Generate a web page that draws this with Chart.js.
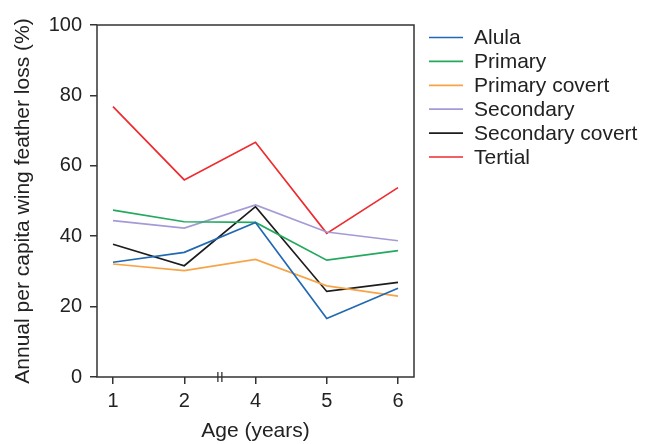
<!DOCTYPE html>
<html>
<head>
<meta charset="utf-8">
<script src="https://cdn.jsdelivr.net/npm/chart.js@4/dist/chart.umd.min.js"></script>
<style>
  html, body { margin: 0; padding: 0; background: #fff; }
  #wrap { width: 654px; height: 444px; }
</style>
</head>
<body>
<div id="wrap"><canvas id="c" width="654" height="444"></canvas></div>
<script>
// ages shown on the x axis (3 is skipped, hence the break mark)
const ageLabels = ["1", "2", "4", "5", "6"];

const alula          = [32.6, 35.4, 43.9, 16.6, 25.2];
const primary        = [47.4, 44.1, 43.9, 33.2, 35.9];
const primaryCovert  = [32.1, 30.2, 33.4, 25.9, 23.0];
const secondary      = [44.4, 42.3, 48.9, 41.2, 38.7];
const secondaryCovert= [37.7, 31.6, 48.4, 24.3, 26.9];
const tertial        = [76.8, 56.0, 66.7, 40.8, 53.8];

const seriesNames  = ["Alula", "Primary", "Primary covert", "Secondary", "Secondary covert", "Tertial"];
const seriesValues = [alula, primary, primaryCovert, secondary, secondaryCovert, tertial];
const seriesColors = ["#2068b2", "#22a95e", "#f7a448", "#a49bd6", "#1c1c1c", "#ee2b2f"];

const FONT = "'Liberation Sans', Arial, sans-serif";
const INK = "#222";
const AXIS = "#333";

const datasets = seriesNames.map((name, i) => ({
  label: name,
  data: seriesValues[i].map((v, k) => ({ x: k, y: v })),
  borderColor: seriesColors[i],
  backgroundColor: seriesColors[i],
  borderWidth: 1.7,
  pointRadius: 0,
  tension: 0,
  fill: false
}));

// box around plot, axis break and legend
const decor = {
  id: "decor",
  afterDraw(chart) {
    const ctx = chart.ctx;
    const a = chart.chartArea;
    ctx.save();
    ctx.strokeStyle = AXIS;
    ctx.lineWidth = 1.5;
    ctx.strokeRect(a.left, a.top, a.right - a.left, a.bottom - a.top);

    // break "||" between 2 and 4
    const bx = chart.scales.x.getPixelForValue(1.5);
    ctx.lineWidth = 1.3;
    [-2, 2].forEach(d => {
      ctx.beginPath();
      ctx.moveTo(bx + d, a.bottom - 5);
      ctx.lineTo(bx + d, a.bottom + 5);
      ctx.stroke();
    });

    // legend
    ctx.font = "21px " + FONT;
    ctx.textBaseline = "middle";
    ctx.textAlign = "left";
    chart.data.datasets.forEach((ds, i) => {
      const y = 37.5 + i * 23.9;
      ctx.strokeStyle = ds.borderColor;
      ctx.lineWidth = 1.7;
      ctx.beginPath();
      ctx.moveTo(429, y);
      ctx.lineTo(463, y);
      ctx.stroke();
      ctx.fillStyle = INK;
      ctx.fillText(ds.label, 474, y + 1);
    });
    ctx.restore();
  }
};

new Chart(document.getElementById("c"), {
  type: "line",
  data: { datasets },
  options: {
    responsive: false,
    animation: false,
    layout: { padding: { top: 25, right: 240, left: 0, bottom: 0 } },
    plugins: { legend: { display: false }, tooltip: { enabled: false } },
    scales: {
      x: {
        type: "linear",
        min: -0.2246,
        max: 4.2246,
        afterBuildTicks: s => { s.ticks = ageLabels.map((_, k) => ({ value: k })); },
        afterFit: s => { s.height = 67; },
        border: { display: false },
        grid: { drawOnChartArea: false, drawTicks: true, tickLength: 7, color: AXIS, lineWidth: 1.5 },
        ticks: {
          callback: v => ageLabels[v],
          font: { family: FONT, size: 20 },
          color: INK,
          padding: 5,
          maxRotation: 0
        },
        title: {
          display: true,
          text: "Age (years)",
          font: { family: FONT, size: 21 },
          color: INK,
          padding: { top: 3, bottom: 0 }
        }
      },
      y: {
        min: 0,
        max: 100,
        afterFit: s => { s.width = 97; },
        border: { display: false },
        grid: { drawOnChartArea: false, drawTicks: true, tickLength: 7, color: AXIS, lineWidth: 1.5 },
        ticks: {
          stepSize: 20,
          font: { family: FONT, size: 20 },
          color: INK,
          padding: 8
        },
        title: {
          display: true,
          text: "Annual per capita wing feather loss (%)",
          font: { family: FONT, size: 21 },
          color: INK,
          padding: { top: 11, bottom: 0 }
        }
      }
    }
  },
  plugins: [decor]
});
</script>
</body>
</html>
